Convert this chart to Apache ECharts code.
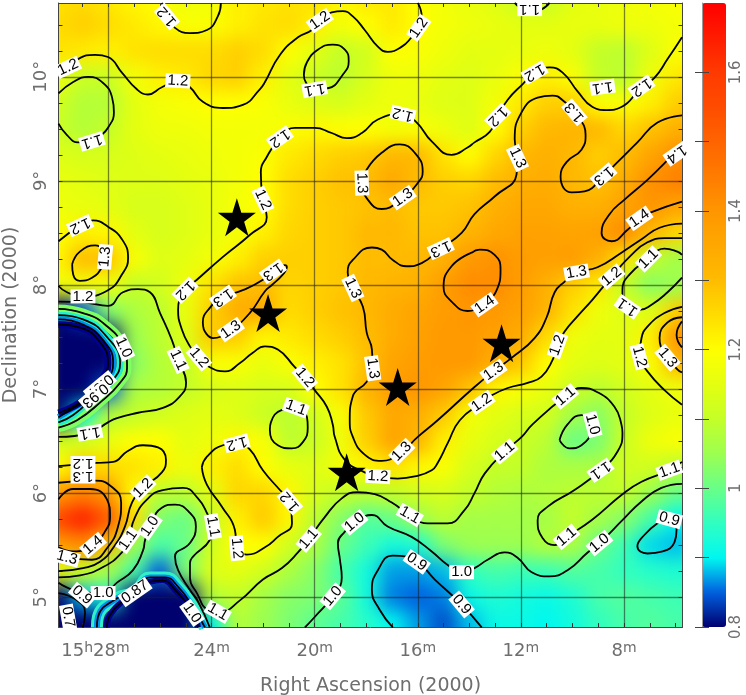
<!DOCTYPE html>
<html>
<head>
<meta charset="utf-8">
<title>Right Ascension / Declination map</title>
<script src="https://cdn.jsdelivr.net/npm/echarts@6/dist/echarts.min.js"></script>
<style>
  html, body { margin: 0; padding: 0; background: #fff; }
  #mapClip { position: absolute; left: 58px; top: 3px; width: 625px; height: 624px; overflow: hidden; background: #e0ff10; }
  #mapChart { position: absolute; left: -58px; top: -33px; width: 746px; height: 730px; filter: blur(9px); }
  #mainChart { position: absolute; left: 0; top: 0; width: 746px; height: 695px; }
</style>
</head>
<body>
<div id="mapClip"><div id="mapChart"></div></div>
<div id="mainChart"></div>
<script>
// map cells: columns are RA minutes, rows are declination
const raCols = [30,29,28,27,26,25,24,23,22,21,20,19,18,17,16,15,14,13,12,11,10,9,8,7,6,5];
const decRows = [10.75,10.5,10.25,10,9.75,9.5,9.25,9,8.75,8.5,8.25,8,7.75,7.5,7.25,7,6.75,6.5,6.25,6,5.75,5.5,5.25,5,4.75,4.5];
const fluxRows = [
  [1.24,1.25,1.23,1.21,1.20,1.17,1.18,1.22,1.23,1.24,1.24,1.21,1.23,1.23,1.20,1.18,1.16,1.14,1.10,1.10,1.15,1.16,1.17,1.18,1.19,1.19],
  [1.25,1.27,1.25,1.23,1.21,1.19,1.19,1.22,1.24,1.25,1.22,1.18,1.20,1.23,1.20,1.18,1.17,1.16,1.15,1.15,1.16,1.16,1.17,1.17,1.18,1.18],
  [1.24,1.23,1.22,1.24,1.25,1.25,1.25,1.27,1.25,1.20,1.15,1.10,1.12,1.20,1.19,1.17,1.15,1.15,1.16,1.17,1.15,1.10,1.09,1.14,1.19,1.21],
  [1.17,1.11,1.11,1.18,1.22,1.23,1.26,1.27,1.22,1.15,1.11,1.09,1.13,1.17,1.17,1.15,1.14,1.16,1.19,1.22,1.19,1.10,1.09,1.17,1.23,1.26],
  [1.12,1.08,1.08,1.15,1.18,1.19,1.20,1.20,1.19,1.16,1.14,1.13,1.15,1.17,1.16,1.14,1.14,1.18,1.23,1.27,1.27,1.20,1.19,1.22,1.27,1.30],
  [1.11,1.08,1.10,1.15,1.17,1.17,1.18,1.18,1.18,1.19,1.21,1.20,1.20,1.18,1.19,1.17,1.14,1.20,1.27,1.31,1.32,1.31,1.26,1.29,1.33,1.35],
  [1.14,1.13,1.13,1.14,1.15,1.16,1.17,1.18,1.19,1.23,1.25,1.27,1.28,1.31,1.31,1.24,1.20,1.26,1.31,1.33,1.31,1.27,1.30,1.36,1.41,1.43],
  [1.16,1.15,1.14,1.14,1.14,1.15,1.16,1.18,1.20,1.25,1.27,1.29,1.30,1.35,1.30,1.27,1.26,1.30,1.33,1.34,1.31,1.29,1.34,1.41,1.44,1.45],
  [1.17,1.16,1.15,1.13,1.13,1.14,1.16,1.18,1.20,1.25,1.27,1.28,1.29,1.30,1.28,1.28,1.29,1.33,1.35,1.35,1.33,1.33,1.37,1.40,1.36,1.34],
  [1.19,1.22,1.21,1.15,1.13,1.14,1.16,1.18,1.22,1.26,1.27,1.28,1.31,1.31,1.29,1.29,1.32,1.35,1.37,1.37,1.36,1.37,1.42,1.31,1.26,1.24],
  [1.21,1.30,1.29,1.19,1.14,1.15,1.18,1.22,1.27,1.27,1.27,1.28,1.30,1.30,1.31,1.33,1.39,1.41,1.38,1.37,1.38,1.33,1.24,1.10,1.06,1.06],
  [1.17,1.18,1.18,1.10,1.12,1.17,1.24,1.29,1.30,1.26,1.27,1.28,1.31,1.32,1.33,1.38,1.42,1.42,1.38,1.33,1.27,1.23,1.10,1.03,1.05,1.08],
  [0.80,0.85,1.02,1.07,1.09,1.16,1.27,1.34,1.35,1.25,1.27,1.29,1.31,1.34,1.36,1.38,1.40,1.39,1.37,1.32,1.24,1.17,1.14,1.14,1.27,1.33],
  [0.60,0.60,0.78,1.05,1.09,1.14,1.28,1.27,1.21,1.23,1.25,1.27,1.30,1.34,1.37,1.39,1.39,1.37,1.34,1.25,1.17,1.15,1.15,1.22,1.40,1.44],
  [0.60,0.60,0.62,1.03,1.08,1.10,1.19,1.19,1.16,1.19,1.22,1.24,1.29,1.36,1.38,1.39,1.39,1.34,1.28,1.20,1.15,1.14,1.15,1.19,1.31,1.36],
  [0.60,0.62,0.85,1.07,1.08,1.10,1.13,1.14,1.13,1.13,1.20,1.24,1.32,1.38,1.40,1.36,1.29,1.21,1.19,1.16,1.11,1.09,1.12,1.15,1.17,1.21],
  [0.75,0.90,1.08,1.10,1.12,1.14,1.15,1.14,1.11,1.09,1.12,1.19,1.28,1.35,1.33,1.28,1.18,1.15,1.13,1.12,1.06,1.03,1.10,1.14,1.16,1.16],
  [1.12,1.13,1.16,1.20,1.20,1.15,1.17,1.21,1.19,1.09,1.11,1.17,1.27,1.36,1.32,1.22,1.16,1.13,1.11,1.09,1.00,1.02,1.11,1.17,1.19,1.18],
  [1.20,1.27,1.25,1.24,1.22,1.17,1.22,1.25,1.20,1.16,1.14,1.18,1.21,1.24,1.21,1.19,1.13,1.10,1.10,1.07,1.07,1.07,1.12,1.12,1.09,1.08],
  [1.39,1.44,1.40,1.20,1.09,1.09,1.15,1.26,1.26,1.21,1.13,1.10,1.09,1.10,1.12,1.13,1.10,1.08,1.07,1.08,1.09,1.09,1.10,1.05,1.00,1.00],
  [1.56,1.64,1.52,1.25,1.02,1.00,1.10,1.22,1.28,1.21,1.09,1.03,0.98,1.00,1.05,1.09,1.06,1.06,1.06,1.06,1.10,1.06,1.03,0.97,0.90,0.92],
  [1.38,1.42,1.30,1.05,0.97,1.00,1.12,1.20,1.20,1.12,1.07,1.00,0.96,0.92,0.93,1.02,1.05,1.05,1.05,1.08,1.07,1.00,0.96,0.89,0.88,0.90],
  [1.16,1.11,1.06,0.97,0.85,1.02,1.14,1.15,1.12,1.07,1.03,0.97,0.92,0.87,0.87,0.88,0.95,0.97,0.96,0.96,0.98,0.97,0.95,0.94,0.93,0.93],
  [0.72,0.88,0.93,0.70,0.55,0.70,1.08,1.10,1.06,1.03,1.02,0.99,0.92,0.86,0.85,0.86,0.91,0.93,0.92,0.91,0.93,0.97,0.98,0.97,0.96,0.96],
  [0.65,0.72,0.72,0.55,0.55,0.55,0.90,1.08,1.05,1.02,0.99,0.97,0.94,0.90,0.87,0.84,0.88,0.91,0.91,0.90,0.92,0.95,0.97,0.98,0.97,0.97],
  [0.65,0.70,0.72,0.55,0.55,0.55,0.88,1.07,1.05,1.02,0.99,0.97,0.94,0.90,0.87,0.85,0.88,0.91,0.91,0.90,0.92,0.95,0.97,0.98,0.97,0.97]
];

// colour ramp of the wedge, 0.8 to 1.7 in even steps
const rampColors = ['#00006e','#0060e0','#00f8f0','#30ffc0','#68ff88','#9cff50','#c4ff28','#e4ff10','#ffff00','#ffdc00','#ffbc00','#ffa800','#ff9600','#ff7c00','#ff6400','#ff4c00','#ff3a00','#ff1c00','#ff0000'];

// contour lines as [RA minutes, Dec degrees]
const lineUpperLeft = [[29.94,10.02],[29.18,10.17],[28.52,10.21],[28.02,10.19],[27.48,10.04],[26.90,9.88],[26.47,9.83],[25.93,9.90],[25.31,9.96],[24.84,9.90],[24.34,9.76],[23.56,9.70],[22.79,9.73],[22.13,9.88],[21.93,9.95],[21.35,10.21],[20.65,10.38],[20.11,10.45],[19.80,10.54],[19.34,10.62],[18.91,10.63],[18.52,10.58],[18.06,10.45],[17.55,10.29],[17.17,10.24],[16.62,10.29],[16.24,10.38],[15.96,10.47],[15.85,10.58],[16.00,10.71]];
const lineTopU = [[25.93,10.71],[25.69,10.58],[25.42,10.47],[24.84,10.42],[24.18,10.45],[23.76,10.58],[23.64,10.71]];
const lineLeftDip = [[29.94,9.84],[29.37,9.95],[28.79,10.00],[28.21,9.94],[27.86,9.80],[27.79,9.66],[28.02,9.51],[28.33,9.43],[28.64,9.38],[29.18,9.37],[29.61,9.44],[29.94,9.55]];
const loopTopDip = [[20.42,10.02],[20.30,10.14],[19.88,10.26],[19.30,10.31],[18.83,10.26],[18.68,10.15],[18.91,10.02],[19.49,9.89],[20.00,9.88],[20.35,9.95],[20.42,10.02]];
const lineMain12 = [[5.75,10.38],[6.31,10.17],[6.82,9.99],[7.32,9.90],[8.10,9.71],[8.68,9.68],[9.22,9.71],[9.80,9.86],[10.38,10.04],[10.89,10.09],[11.47,10.04],[11.93,9.93],[12.51,9.78],[12.90,9.62],[13.21,9.47],[13.80,9.37],[14.07,9.32],[14.69,9.25],[15.46,9.38],[16.04,9.56],[16.58,9.64],[17.55,9.59],[18.17,9.46],[18.75,9.41],[19.34,9.46],[20.00,9.51],[20.77,9.51],[21.35,9.41],[21.86,9.23],[22.09,9.08],[22.01,8.82],[21.86,8.65],[22.52,8.48],[23.56,8.27],[24.57,8.05],[25.03,7.95],[25.30,7.76],[25.15,7.57],[24.84,7.41],[24.49,7.30],[24.07,7.21],[23.48,7.17],[22.90,7.25],[22.40,7.35],[21.93,7.41],[21.43,7.38],[20.77,7.21],[20.38,7.11],[20.00,6.99],[19.53,6.83],[19.30,6.66],[19.22,6.54],[18.83,6.32],[18.06,6.20],[17.55,6.16],[16.78,6.14],[16.12,6.16],[15.46,6.22],[15.23,6.29],[14.84,6.48],[14.37,6.70],[13.52,6.87],[13.13,6.94],[12.51,7.01],[11.74,7.06],[11.20,7.12],[10.77,7.28],[10.58,7.42],[10.31,7.55],[9.80,7.70],[9.22,7.86],[8.48,8.08],[7.71,8.29],[7.09,8.41],[6.43,8.45],[5.75,8.45]];
const lineMain13 = [[5.75,9.63],[6.70,9.56],[7.48,9.37],[8.25,9.18],[8.79,9.05],[9.53,8.90],[10.03,8.89],[10.46,9.04],[10.23,9.18],[9.65,9.30],[9.49,9.44],[9.92,9.66],[10.31,9.76],[10.77,9.82],[11.35,9.80],[11.97,9.66],[12.24,9.40],[12.13,9.22],[12.17,9.06],[13.02,8.85],[13.80,8.68],[14.30,8.50],[15.11,8.35],[15.85,8.21],[16.43,8.18],[16.97,8.24],[17.40,8.34],[17.78,8.36],[18.52,8.24],[18.72,8.12],[18.52,7.97],[18.13,7.79],[17.98,7.54],[17.78,7.38],[17.75,7.20],[17.98,7.07],[18.52,6.93],[18.64,6.70],[18.52,6.54],[18.06,6.37],[17.40,6.31],[16.62,6.40],[16.00,6.54],[15.23,6.70],[13.80,7.02],[13.06,7.17],[12.36,7.30],[11.47,7.49],[11.00,7.69],[10.69,7.93],[10.31,8.03],[9.84,8.12],[9.03,8.17],[8.10,8.31],[7.32,8.44],[6.62,8.55],[5.75,8.59]];
const loopPeak14 = [[13.91,8.31],[14.69,8.18],[15.00,7.98],[14.69,7.84],[14.07,7.75],[13.41,7.83],[12.94,7.95],[12.79,8.15],[13.02,8.29],[13.60,8.34],[13.91,8.31]];
const lineRight14 = [[5.75,9.35],[6.31,9.20],[7.09,9.01],[7.98,8.82],[8.56,8.68],[8.87,8.50],[8.48,8.42],[7.86,8.53],[7.40,8.64],[6.93,8.70],[5.75,8.80]];
const loopCentre13 = [[17.98,9.11],[17.40,9.27],[16.70,9.35],[16.12,9.27],[15.81,9.09],[16.00,8.98],[16.58,8.84],[17.40,8.73],[17.94,8.82],[18.17,8.98],[17.98,9.11]];
const lineTop11 = [[12.24,10.71],[11.86,10.65],[11.35,10.64],[10.89,10.71]];
const lineRight11 = [[5.75,8.29],[5.93,8.32],[6.43,8.35],[7.05,8.25],[7.79,8.10],[8.06,7.95],[8.06,7.89],[7.86,7.79],[7.40,7.76],[6.93,7.81],[6.31,7.93],[5.75,8.07]];
const lineRight12 = [[5.75,7.79],[6.43,7.73],[7.09,7.60],[7.32,7.49],[7.40,7.31],[7.09,7.17],[6.43,6.99],[5.75,6.85]];
const lineRight13 = [[5.75,7.69],[6.31,7.64],[6.62,7.49],[6.31,7.30],[5.93,7.19],[5.75,7.16]];
const lineRightPeak = [[5.75,7.65],[5.96,7.52],[5.75,7.40]];
const loopLeft13 = [[29.41,8.20],[29.11,8.32],[28.52,8.38],[28.13,8.27],[28.25,8.17],[28.64,8.07],[29.11,8.04],[29.37,8.10],[29.41,8.20]];
const lineLeft12 = [[29.94,8.42],[29.10,8.57],[28.60,8.62],[28.02,8.56],[27.48,8.44],[27.24,8.26],[27.48,8.10],[28.02,7.95],[28.99,7.89],[29.61,7.93],[29.94,7.99]];
const lineLeft11 = [[29.94,7.84],[28.91,7.83],[28.02,7.80],[27.44,7.93],[26.86,7.96],[26.39,7.93],[26.00,7.73],[25.54,7.47],[25.30,7.28],[24.99,7.06],[25.23,6.93],[25.89,6.82],[26.90,6.77],[27.67,6.72],[28.02,6.68],[28.72,6.58],[29.94,6.54]];
const lineHole100 = [[29.94,7.77],[28.99,7.73],[28.14,7.62],[27.44,7.41],[27.28,7.21],[27.55,7.06],[28.33,6.87],[29.22,6.70],[29.94,6.63]];
const lineHole093 = [[29.94,7.71],[28.99,7.67],[28.06,7.50],[27.55,7.25],[27.82,7.09],[28.52,6.94],[29.37,6.75],[29.94,6.68]];
const lineHole087 = [[29.94,7.67],[28.99,7.62],[28.21,7.47],[27.82,7.25],[28.06,7.09],[28.72,6.92],[29.49,6.80],[29.94,6.73]];
const lineHole080 = [[29.94,7.62],[29.10,7.59],[28.33,7.45],[28.02,7.25],[28.21,7.11],[28.83,6.92],[29.94,6.77]];
const lineLow12 = [[29.94,6.26],[28.45,6.29],[27.82,6.30],[27.28,6.40],[26.66,6.46],[26.08,6.44],[25.77,6.32],[25.93,6.20],[26.66,6.05],[27.09,5.91],[27.36,5.68],[27.75,5.50],[28.33,5.34],[28.99,5.28],[29.94,5.25]];
const lineLow13 = [[29.94,6.10],[28.52,6.12],[27.82,6.05],[27.51,5.91],[27.63,5.68],[28.06,5.47],[28.64,5.36],[29.61,5.38],[29.94,5.41]];
const lineLow14 = [[29.94,5.94],[29.37,6.04],[28.72,6.04],[28.06,5.94],[27.94,5.77],[28.14,5.63],[28.60,5.50],[29.37,5.44],[29.94,5.48]];
const lineMain11 = [[29.94,5.19],[29.10,5.21],[28.21,5.29],[27.48,5.43],[27.24,5.55],[26.97,5.77],[26.50,5.94],[25.89,6.03],[25.11,6.05],[24.53,5.95],[24.14,5.79],[23.95,5.68],[24.07,5.55],[24.72,5.39],[24.84,5.33],[24.84,5.19],[24.57,5.04],[24.14,4.88],[23.68,4.86],[22.90,4.97],[22.01,5.17],[21.27,5.28],[20.65,5.43],[20.23,5.56],[19.61,5.77],[18.95,5.95],[18.33,6.01],[17.67,5.99],[17.01,5.91],[16.31,5.79],[15.61,5.71],[14.84,5.71],[14.18,5.84],[13.80,6.00],[13.40,6.19],[12.63,6.40],[11.97,6.54],[11.55,6.66],[10.27,6.93],[9.65,7.01],[9.03,6.97],[8.37,6.83],[8.10,6.66],[8.06,6.58],[8.25,6.40],[8.91,6.22],[9.92,6.03],[10.96,5.87],[11.35,5.74],[11.16,5.57],[10.69,5.50],[10.23,5.58],[9.26,5.74],[8.06,5.99],[7.32,6.11],[6.24,6.22],[5.75,6.30]];
const lineLow10 = [[29.94,5.14],[29.03,5.05],[28.21,5.04],[27.67,5.14],[27.05,5.26],[26.66,5.45],[26.58,5.55],[26.39,5.68],[25.93,5.86],[25.42,5.89],[24.84,5.81],[24.61,5.68],[24.84,5.52],[25.42,5.39],[25.30,5.26],[24.84,5.07],[24.53,4.96],[24.07,4.71]];
const lineCorner09 = [[29.94,5.04],[29.22,4.97],[28.91,4.85],[29.00,4.71]];
const lineBlobOuter = [[28.45,4.71],[28.41,4.81],[27.67,4.99],[26.97,5.05],[26.39,5.19],[25.81,5.19],[25.30,5.10],[24.76,4.92],[24.26,4.71]];
const lineBlobInner = [[28.06,4.71],[27.94,4.83],[27.24,5.00],[26.39,5.15],[25.89,5.16],[25.42,5.07],[24.72,4.85],[24.53,4.71]];
const loopBottom12 = [[24.38,6.25],[24.18,6.35],[23.56,6.46],[23.02,6.48],[22.52,6.42],[22.01,6.22],[21.35,6.03],[20.96,5.92],[20.88,5.71],[21.43,5.58],[21.93,5.48],[22.63,5.41],[23.02,5.47],[23.10,5.65],[23.60,5.87],[24.18,6.08],[24.38,6.25]];
const loopMid11 = [[20.73,6.82],[21.27,6.80],[21.70,6.68],[21.74,6.61],[21.43,6.46],[20.89,6.43],[20.46,6.49],[20.27,6.63],[20.30,6.73],[20.73,6.82]];
const lineMain10 = [[20.38,4.71],[20.00,4.81],[19.30,5.01],[18.95,5.19],[19.02,5.36],[19.10,5.52],[18.83,5.63],[18.45,5.72],[17.78,5.79],[17.17,5.68],[16.24,5.58],[15.46,5.44],[14.84,5.31],[14.30,5.24],[13.80,5.28],[13.29,5.36],[12.63,5.43],[12.13,5.38],[11.58,5.24],[10.89,5.20],[10.19,5.26],[9.41,5.43],[8.95,5.52],[8.06,5.74],[7.32,5.92],[6.55,6.05],[5.75,6.09]];
const lineBottom09 = [[16.97,4.71],[17.48,4.88],[17.78,5.07],[17.55,5.26],[16.97,5.40],[16.04,5.34],[15.34,5.17],[14.30,4.93],[13.52,4.71]];
const loopRight09 = [[6.70,5.71],[7.20,5.60],[7.48,5.49],[7.09,5.42],[6.50,5.44],[6.04,5.53],[5.96,5.65],[6.24,5.75],[6.70,5.71]];
const loopSmall10 = [[10.50,6.51],[10.19,6.66],[9.65,6.75],[9.22,6.72],[9.26,6.61],[9.65,6.46],[10.11,6.43],[10.50,6.51]];
const loopStar13 = [[24.30,7.57],[24.34,7.64],[24.07,7.78],[23.56,7.88],[22.79,7.95],[22.01,8.05],[21.55,8.15],[21.16,8.19],[21.08,8.17],[21.24,8.10],[21.66,8.00],[21.93,7.94],[22.52,7.73],[23.25,7.57],[23.95,7.49],[24.30,7.57]];

const contourLines = [lineUpperLeft,lineTopU,lineLeftDip,loopTopDip,lineMain12,lineMain13,loopPeak14,lineRight14,loopCentre13,lineTop11,lineRight11,lineRight12,lineRight13,lineRightPeak,loopLeft13,lineLeft12,lineLeft11,lineHole100,lineHole093,lineHole087,lineHole080,lineLow12,lineLow13,lineLow14,lineMain11,lineLow10,lineCorner09,lineBlobOuter,lineBlobInner,loopBottom12,loopMid11,lineMain10,lineBottom09,loopRight09,loopSmall10,loopStar13];

// contour labels: spot, text, angle
const labelSpots = [[29.57,10.09],[25.31,9.96],[28.64,9.38],[25.73,10.58],[19.80,10.54],[15.96,10.47],[20.00,9.88],[21.35,9.41],[16.58,9.64],[18.17,8.98],[16.58,8.84],[12.90,9.62],[11.47,10.04],[11.66,10.65],[8.83,9.90],[7.32,9.90],[9.92,9.66],[12.13,9.22],[8.79,9.05],[5.96,9.26],[7.40,8.64],[15.11,8.35],[18.52,7.97],[17.75,7.20],[13.41,7.81],[9.84,8.12],[8.48,8.08],[7.05,8.25],[7.86,7.79],[7.40,7.31],[6.31,7.30],[10.58,7.42],[13.06,7.17],[13.52,6.87],[10.27,6.93],[9.22,6.66],[8.91,6.22],[12.63,6.40],[6.24,6.22],[6.24,5.75],[8.95,5.52],[10.23,5.58],[14.30,5.24],[16.04,5.34],[14.30,4.93],[19.30,5.01],[18.45,5.72],[20.23,5.56],[16.31,5.79],[17.55,6.16],[16.62,6.40],[20.96,5.92],[23.02,5.47],[23.02,6.48],[23.95,5.68],[23.76,4.86],[24.76,4.85],[26.39,5.68],[27.24,5.55],[26.66,6.05],[28.60,5.50],[29.61,5.38],[28.99,6.29],[28.99,6.16],[28.72,6.58],[28.21,5.04],[29.03,5.02],[26.97,5.05],[29.57,4.81],[27.41,7.40],[28.33,7.03],[28.52,6.94],[25.30,7.28],[24.49,7.30],[25.03,7.95],[28.99,7.89],[28.13,8.27],[29.10,8.57],[23.56,7.88],[23.25,7.57],[21.62,8.13],[20.38,7.11],[20.73,6.82],[22.01,8.82]];
const labelTexts = ['1.2','1.2','1.1','1.2','1.2','1.2','1.1','1.2','1.2','1.3','1.3','1.2','1.2','1.1','1.1','1.2','1.3','1.3','1.3','1.4','1.4','1.3','1.3','1.3','1.4','1.3','1.2','1.1','1.1','1.2','1.3','1.2','1.3','1.2','1.1','1.0','1.1','1.1','1.1','0.9','1.0','1.1','1.0','0.9','0.9','1.0','1.0','1.1','1.1','1.2','1.3','1.2','1.2','1.2','1.1','1.1','1.0','1.0','1.1','1.2','1.4','1.3','1.2','1.3','1.1','1.0','0.9','0.87','0.7','1.0','0.87','0.93','1.1','1.2','1.2','1.2','1.3','1.2','1.3','1.3','1.3','1.2','1.1','1.2'];
const labelAngles = [25,-3,197,130,35,55,190,215,166,-88,35,225,210,180,188,215,130,-65,220,215,35,205,-65,-82,35,10,40,45,145,-75,-50,70,35,35,40,-75,215,40,20,-15,40,40,0,-35,-50,50,40,50,-30,-3,45,130,-85,195,-80,-30,-55,55,55,45,40,-15,180,180,190,0,-40,35,-80,-65,220,220,-65,-50,225,0,85,205,215,35,215,-50,-20,-65];

// star positions
const starSpots = [[23.02,8.65],[21.81,7.73],[16.78,7.02],[12.75,7.44],[18.76,6.20]];

// axis ticks
const raMajor = [28,24,20,16,12,8];
const raMinor = [29,28,27,26,25,24,23,22,21,20,19,18,17,16,15,14,13,12,11,10,9,8,7,6];
const decMajor = [5,6,7,8,9,10];
const decMinor = [5,5.25,5.5,5.75,6,6.25,6.5,6.75,7,7.25,7.5,7.75,8,8.25,8.5,8.75,9,9.25,9.5,9.75,10,10.25,10.5];
const wedgeTicks = [0.8,0.9,1.0,1.1,1.2,1.3,1.4,1.5,1.6];
const wedgeLabels = [0.8,1,1.2,1.4,1.6];

const FONT = 'DejaVu Sans';
const TEXT_GREY = '#6e6e6e';
const starPath = 'path://M50 0L61.2 34.5H97.6L68.2 55.9L79.4 90.5L50 69.1L20.6 90.5L31.8 55.9L2.4 34.5H38.8Z';

// map layer, blurred by the page css so the cells read as a smooth image
const cells = [];
fluxRows.forEach((row, r) => row.forEach((v, c) => cells.push([c, r, v])));
const mapChart = echarts.init(document.getElementById('mapChart'));
mapChart.setOption({
  animation: false,
  grid: { left: 44, top: 16.3, width: 670.8, height: 676, outerBoundsMode: 'none' },
  xAxis: { type: 'category', data: raCols, show: false },
  yAxis: { type: 'category', data: decRows, inverse: true, show: false },
  visualMap: {
    show: false, min: 0.8, max: 1.7,
    inRange: { color: rampColors },
    outOfRange: { color: '#00006e' }
  },
  series: [{ type: 'heatmap', data: cells, silent: true, progressive: 0 }]
});

// axes, contours, labels, stars and colour wedge
const lineSeries = contourLines.map(pts => ({
  type: 'line', data: pts, showSymbol: false, smooth: 0.5, silent: true, z: 3,
  lineStyle: { color: '#000', width: 1.8 }
}));
// steep rim round the two holes: coloured bands under the contours, too sharp for the blurred layer
const rimBands = [
  [lineHole100, '#80ff60', 9], [lineHole093, '#20f0d0', 7], [lineHole087, '#0090f0', 6], [lineHole080, '#000090', 7],
  [lineBlobOuter, '#30f0c8', 12], [lineBlobOuter, '#0090f0', 6], [lineBlobInner, '#000090', 6]
];
const rimSeries = rimBands.map(([pts, color, width]) => ({
  type: 'line', data: pts, showSymbol: false, smooth: 0.5, silent: true, z: 2,
  lineStyle: { color, width }
}));
const minorAxis = { show: true, axisLine: { show: true, lineStyle: { color: '#444', width: 1 } }, splitLine: { show: false }, axisLabel: { show: false } };
const tickStyle = { show: true, inside: true, length: 4, lineStyle: { color: '#333', width: 1 } };

const chart = echarts.init(document.getElementById('mainChart'));
chart.setOption({
  animation: false,
  backgroundColor: 'transparent',
  textStyle: { fontFamily: FONT },
  grid: [
    { left: 58.5, top: 3, width: 624, height: 624, outerBoundsMode: 'none' },
    { left: 58.5, top: 3, width: 624, height: 624, outerBoundsMode: 'none' },
    { left: 702, top: 3, width: 24, height: 624, outerBoundsMode: 'none' }
  ],
  xAxis: [
    { ...minorAxis, type: 'value', gridIndex: 0, min: 5.73, max: 29.94, inverse: true, position: 'bottom', axisTick: { ...tickStyle, customValues: raMinor } },
    { ...minorAxis, type: 'value', gridIndex: 0, min: 5.73, max: 29.94, inverse: true, position: 'top', axisTick: { ...tickStyle, customValues: raMinor } },
    {
      type: 'value', gridIndex: 1, min: 5.73, max: 29.94, inverse: true, position: 'bottom',
      name: 'Right Ascension (2000)', nameLocation: 'middle', nameGap: 50,
      nameTextStyle: { color: TEXT_GREY, fontSize: 19, fontFamily: FONT },
      axisLine: { show: false },
      axisTick: { show: false, customValues: raMajor },
      splitLine: { show: true, lineStyle: { color: 'rgba(30,30,30,0.55)', width: 1.3 } },
      axisLabel: {
        show: true, customValues: raMajor, margin: 14, color: TEXT_GREY, fontSize: 18,
        formatter: v => v === 28 ? '15{s|h}28{s|m}{p| }' : v + '{s|m}',
        rich: { s: { fontSize: 14, color: TEXT_GREY, verticalAlign: 'top', padding: [0, 0, 6, 0] }, p: { width: 26 } }
      }
    },
    { type: 'value', gridIndex: 2, min: 0, max: 1, show: false }
  ],
  yAxis: [
    { ...minorAxis, type: 'value', gridIndex: 0, min: 4.714, max: 10.709, position: 'left', axisTick: { ...tickStyle, customValues: decMinor } },
    { ...minorAxis, type: 'value', gridIndex: 0, min: 4.714, max: 10.709, position: 'right', axisTick: { ...tickStyle, customValues: decMinor } },
    {
      type: 'value', gridIndex: 1, min: 4.714, max: 10.709, position: 'left',
      name: 'Declination (2000)', nameLocation: 'middle', nameGap: 38,
      nameTextStyle: { color: TEXT_GREY, fontSize: 19, fontFamily: FONT },
      axisLine: { show: false },
      axisTick: { show: false, customValues: decMajor },
      splitLine: { show: true, lineStyle: { color: 'rgba(30,30,30,0.55)', width: 1.3 } },
      axisLabel: {
        show: true, customValues: decMajor, rotate: 90, margin: 8, color: TEXT_GREY, fontSize: 18,
        formatter: v => v + '°'
      }
    },
    {
      type: 'value', gridIndex: 2, min: 0.8, max: 1.7, position: 'right', z: 10,
      axisLine: { show: false },
      splitLine: { show: false },
      axisTick: { show: true, inside: true, length: 7, customValues: wedgeTicks, lineStyle: { color: '#444' } },
      axisLabel: { show: true, customValues: wedgeLabels, rotate: 90, margin: 3, color: TEXT_GREY, fontSize: 15, formatter: v => String(v) }
    },
    {
      type: 'value', gridIndex: 2, min: 0.8, max: 1.7, position: 'left', z: 10,
      axisLine: { show: true, lineStyle: { color: '#999' } },
      splitLine: { show: false },
      axisLabel: { show: false },
      axisTick: { show: true, inside: true, length: 7, customValues: wedgeTicks, lineStyle: { color: '#444' } }
    }
  ],
  visualMap: {
    type: 'continuous', seriesIndex: [], min: 0.8, max: 1.7, z: 1,
    left: 702, top: 3, itemWidth: 24, itemHeight: 624, padding: 0,
    calculable: false, showLabel: false, text: null, handleSize: 0, indicatorSize: 0,
    inRange: { color: rampColors }
  },
  series: [
    ...rimSeries,
    ...lineSeries,
    {
      type: 'scatter', symbolSize: 0, silent: true, z: 5,
      itemStyle: { opacity: 1 },
      data: labelSpots.map((p, i) => ({
        value: p,
        label: { rotate: labelAngles[i], formatter: labelTexts[i] }
      })),
      label: {
        show: true, position: 'inside', color: '#000', backgroundColor: '#fff',
        fontFamily: 'Liberation Sans', fontSize: 15, padding: [0, 2, 0, 2], lineHeight: 14
      }
    },
    {
      type: 'scatter', symbol: starPath, symbolSize: 38, silent: true, z: 6,
      itemStyle: { color: '#000', opacity: 1 },
      data: starSpots
    }
  ]
});
</script>
</body>
</html>
